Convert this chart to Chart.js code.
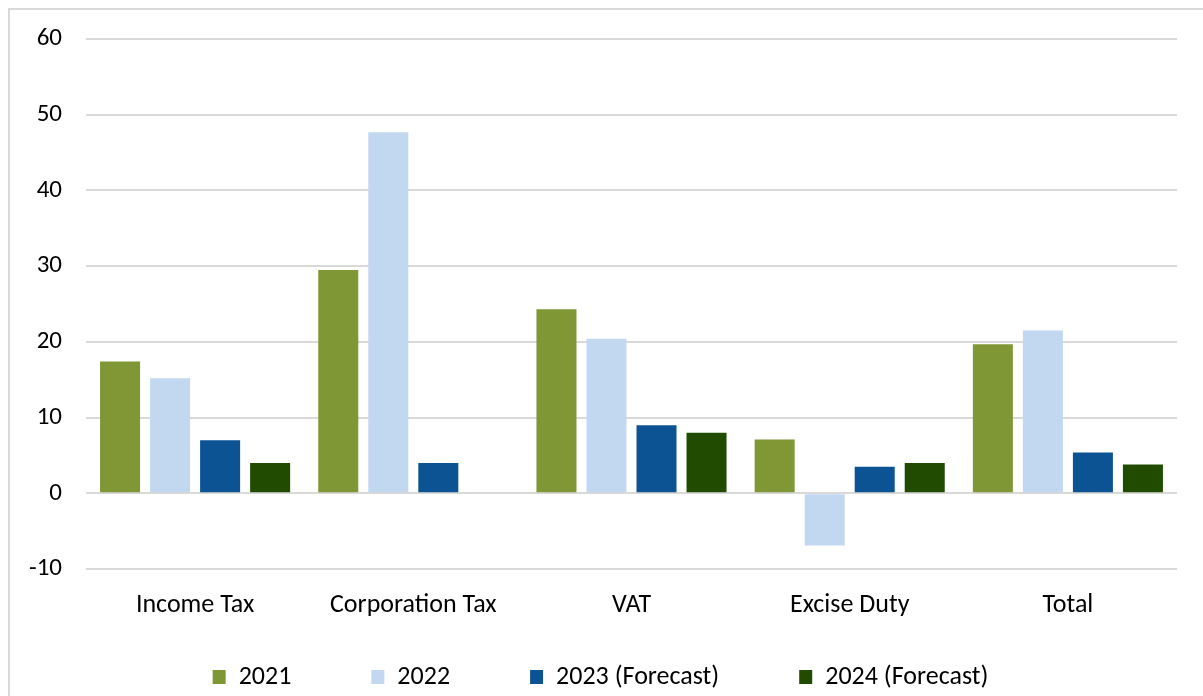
<!DOCTYPE html>
<html>
<head>
<meta charset="utf-8">
<script src="https://cdn.jsdelivr.net/npm/chart.js@4.4.0/dist/chart.umd.min.js"></script>
<style>
  html, body { margin: 0; padding: 0; background: #ffffff; overflow: hidden; }
  #frame { position: absolute; left: 8px; top: 8px; width: 1400px; height: 900px; border: 2px solid #d9d9d9; box-sizing: border-box; }
  #wrap { position: absolute; left: 0; top: 0; width: 1203px; height: 696px; }
</style>
</head>
<body>
<div id="frame"></div>
<div id="wrap"><canvas id="c" width="1203" height="696"></canvas></div>
<script>
const categories = ["Income Tax", "Corporation Tax", "VAT", "Excise Duty", "Total"];
const seriesNames = ["2021", "2022", "2023 (Forecast)", "2024 (Forecast)"];
const values2021 = [17.4, 29.5, 24.3, 7.1, 19.7];
const values2022 = [15.2, 47.7, 20.4, -6.9, 21.5];
const values2023 = [7.0, 4.0, 9.0, 3.5, 5.4];
const values2024 = [4.0, null, 8.0, 4.0, 3.8];
const colors = ["#7f9734", "#c2d8f1", "#0c5394", "#214c00"];
const yTicks = { min: -10, max: 60, step: 10 };

const FONT = "Carlito, Lato, 'Open Sans', sans-serif";
const LEGEND_PAD = 80;
const LEGEND_CENTER_Y = 677;

const legendShift = {
  id: "legendShift",
  afterLayout(chart) {
    const lg = chart.legend;
    if (!lg) return;
    const itemH = 26;
    const newTop = LEGEND_CENTER_Y - LEGEND_PAD - itemH / 2;
    const h = lg.bottom - lg.top;
    lg.top = newTop;
    lg.bottom = newTop + h;
    lg.left += 12;
    lg.right += 12;
  }
};

new Chart(document.getElementById("c"), {
  type: "bar",
  data: {
    labels: categories,
    datasets: [values2021, values2022, values2023, values2024].map((v, i) => ({
      label: seriesNames[i],
      data: v,
      backgroundColor: colors[i],
      borderWidth: 0,
      categoryPercentage: 0.917,
      barPercentage: 0.8
    }))
  },
  plugins: [legendShift],
  options: {
    responsive: false,
    animation: false,
    devicePixelRatio: 1,
    layout: { padding: { top: 39, right: 26, left: 0, bottom: -59 } },
    plugins: {
      tooltip: { enabled: false },
      legend: {
        position: "bottom",
        labels: {
          font: { family: FONT, size: 26 },
          color: "#000000",
          boxWidth: 13,
          boxHeight: 14,
          padding: LEGEND_PAD
        }
      }
    },
    scales: {
      x: {
        grid: { display: false, drawTicks: false },
        border: { display: false },
        ticks: { font: { family: FONT, size: 26 }, color: "#000000", padding: 21, maxRotation: 0, autoSkip: false },
        afterFit: (s) => { s.height = 70; }
      },
      y: {
        min: yTicks.min,
        max: yTicks.max,
        ticks: { stepSize: yTicks.step, font: { family: FONT, size: 25 }, color: "#000000", padding: 24 },
        grid: { color: "#d9d9d9", lineWidth: 2, drawTicks: false },
        border: { display: false },
        afterFit: (s) => { s.width = 86; }
      }
    }
  }
});
</script>
</body>
</html>
